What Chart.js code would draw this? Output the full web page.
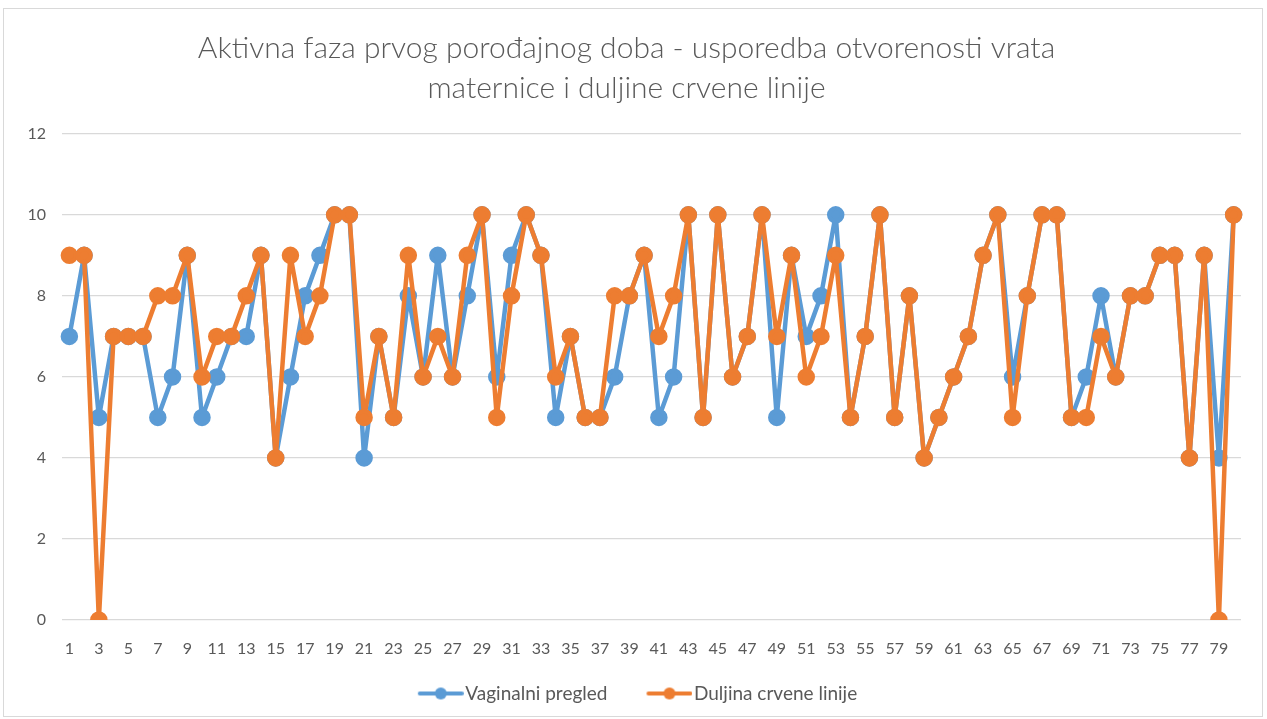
<!DOCTYPE html>
<html lang="hr">
<head>
    <meta charset="UTF-8">
    <title>Aktivna faza prvog porođajnog doba</title>
    <script src="https://cdn.jsdelivr.net/npm/chart.js"></script>
    <style>
        body {
            margin: 0;
            background-color: #fff;
            font-family: Lato, "Open Sans", sans-serif;
        }

        .frame {
            position: absolute;
            left: 3px;
            top: 8px;
            width: 1260px;
            height: 709px;
            border: 1px solid #d9d9d9;
            box-sizing: border-box;
        }

        .chart-box {
            position: absolute;
            left: 0;
            top: 0;
            width: 1267px;
            height: 719px;
        }
    </style>
</head>
<body>
    <div class="frame"></div>
    <div class="chart-box">
        <canvas id="myChart"></canvas>
    </div>

    <script>
        const categories = [];
        for (let i = 1; i <= 80; i++) categories.push(String(i));

        const vaginalniPregled = [
            7, 9, 5, 7, 7, 7, 5, 6, 9, 5,
            6, 7, 7, 9, 4, 6, 8, 9, 10, 10,
            4, 7, 5, 8, 6, 9, 6, 8, 10, 6,
            9, 10, 9, 5, 7, 5, 5, 6, 8, 9,
            5, 6, 10, 5, 10, 6, 7, 10, 5, 9,
            7, 8, 10, 5, 7, 10, 5, 8, 4, 5,
            6, 7, 9, 10, 6, 8, 10, 10, 5, 6,
            8, 6, 8, 8, 9, 9, 4, 9, 4, 10
        ];

        const duljinaCrveneLinije = [
            9, 9, 0, 7, 7, 7, 8, 8, 9, 6,
            7, 7, 8, 9, 4, 9, 7, 8, 10, 10,
            5, 7, 5, 9, 6, 7, 6, 9, 10, 5,
            8, 10, 9, 6, 7, 5, 5, 8, 8, 9,
            7, 8, 10, 5, 10, 6, 7, 10, 7, 9,
            6, 7, 9, 5, 7, 10, 5, 8, 4, 5,
            6, 7, 9, 10, 5, 8, 10, 10, 5, 5,
            7, 6, 8, 8, 9, 9, 4, 9, 0, 10
        ];

        const yTicks = [0, 2, 4, 6, 8, 10, 12];

        const blue = '#5b9bd5';
        const orange = '#ed7d31';
        const textColor = '#595959';
        const fontFamily = 'Lato, "Open Sans", sans-serif';

        // legend marker: a short line with a dot, drawn at the right end of a wider image
        function legendMarker(color) {
            const c = document.createElement('canvas');
            c.width = 76;
            c.height = 14;
            const g = c.getContext('2d');
            g.strokeStyle = color;
            g.lineWidth = 4;
            g.lineCap = 'round';
            g.beginPath();
            g.moveTo(32, 7);
            g.lineTo(74, 7);
            g.stroke();
            g.fillStyle = color;
            g.beginPath();
            g.arc(53, 7, 6, 0, Math.PI * 2);
            g.fill();
            return c;
        }

        const ctx = document.getElementById('myChart').getContext('2d');
        const myChart = new Chart(ctx, {
            type: 'line',
            data: {
                labels: categories,
                datasets: [
                    {
                        label: 'Vaginalni pregled',
                        data: vaginalniPregled,
                        borderColor: blue,
                        backgroundColor: blue,
                        borderWidth: 4.5,
                        borderJoinStyle: 'round',
                        pointRadius: 6.5,
                        pointHoverRadius: 6.5,
                        tension: 0,
                        order: 2
                    },
                    {
                        label: 'Duljina crvene linije',
                        data: duljinaCrveneLinije,
                        borderColor: orange,
                        backgroundColor: orange,
                        borderWidth: 4.5,
                        borderJoinStyle: 'round',
                        pointRadius: 6.5,
                        pointHoverRadius: 6.5,
                        tension: 0,
                        order: 1
                    }
                ]
            },
            options: {
                responsive: true,
                maintainAspectRatio: false,
                animation: false,
                layout: {
                    padding: { left: 12, right: 26, top: 16, bottom: 6 }
                },
                plugins: {
                    title: {
                        display: true,
                        text: ['Aktivna faza prvog porođajnog doba - usporedba otvorenosti vrata',
                               'maternice i duljine crvene linije'],
                        color: textColor,
                        font: { family: fontFamily, size: 30, weight: 300, lineHeight: 1.33 },
                        padding: { top: 12, bottom: 26 }
                    },
                    legend: {
                        position: 'bottom',
                        labels: {
                            usePointStyle: true,
                            pointStyleWidth: 60,
                            color: textColor,
                            font: { family: fontFamily, size: 19 },
                            padding: 17,
                            generateLabels(chart) {
                                return chart.data.datasets.map((ds, i) => ({
                                    text: ds.label,
                                    fillStyle: ds.borderColor,
                                    strokeStyle: ds.borderColor,
                                    fontColor: textColor,
                                    lineWidth: 0,
                                    pointStyle: legendMarker(ds.borderColor),
                                    hidden: false,
                                    datasetIndex: i
                                }));
                            }
                        }
                    },
                    tooltip: { enabled: false }
                },
                scales: {
                    x: {
                        offset: true,
                        grid: { display: false, drawTicks: false },
                        border: { display: false },
                        afterFit: (axis) => { axis.height = 47; },
                        ticks: {
                            autoSkip: false,
                            maxRotation: 0,
                            color: textColor,
                            padding: 19,
                            font: { family: fontFamily, size: 16 },
                            callback: function (value, index) {
                                return index % 2 === 0 ? this.getLabelForValue(value) : '';
                            }
                        }
                    },
                    y: {
                        min: 0,
                        max: 12,
                        afterBuildTicks: (axis) => {
                            axis.ticks = yTicks.map(v => ({ value: v }));
                        },
                        afterFit: (axis) => { axis.width = 50; },
                        grid: { color: '#d9d9d9', lineWidth: 1.3, drawTicks: false },
                        border: { display: false },
                        ticks: {
                            color: textColor,
                            padding: 16,
                            font: { family: fontFamily, size: 16 }
                        }
                    }
                }
            }
        });
    </script>
</body>
</html>
